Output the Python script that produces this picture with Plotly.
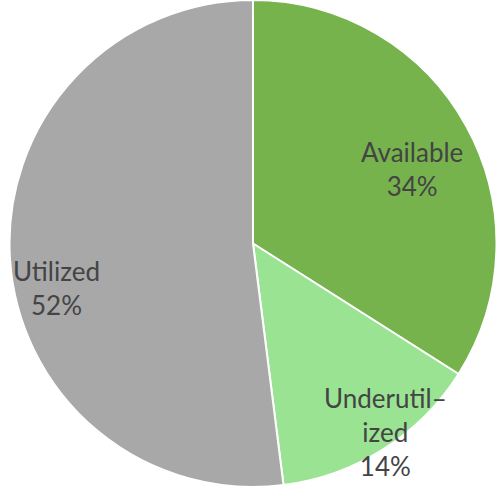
import plotly.graph_objects as go

# Capacity breakdown
labels = ["Available", "Underutilized", "Utilized"]
values = [34, 14, 52]
label_text = ["Available", "Underutil–<br>ized", "Utilized"]
colors = ["#76b34d", "#9ae393", "#a8a8a8"]

# Label anchor points in paper coordinates
label_x = [0.828, 0.775, 0.113]
label_y = [0.653, 0.112, 0.408]

W, H = 498, 487
R = H / 2
cx = 253

fig = go.Figure(
    go.Pie(
        labels=labels,
        values=values,
        sort=False,
        direction="clockwise",
        rotation=0,
        marker=dict(colors=colors, line=dict(color="white", width=2)),
        textinfo="none",
        hoverinfo="label+percent",
        showlegend=False,
        domain=dict(x=[(cx - R) / W, (cx + R) / W], y=[0, 1]),
    )
)

total = sum(values)
for txt, v, x, y in zip(label_text, values, label_x, label_y):
    fig.add_annotation(
        x=x, y=y, xref="paper", yref="paper",
        xanchor="center", yanchor="middle",
        text=f"{txt}<br>{round(100 * v / total)}%",
        showarrow=False,
        font=dict(family="Lato, Open Sans, sans-serif", size=26, color="#444444"),
        align="center",
        borderpad=0,
    )

fig.update_layout(
    width=W, height=H,
    margin=dict(l=0, r=0, t=0, b=0),
    paper_bgcolor="white",
    plot_bgcolor="white",
)

fig.write_html("out.html")
